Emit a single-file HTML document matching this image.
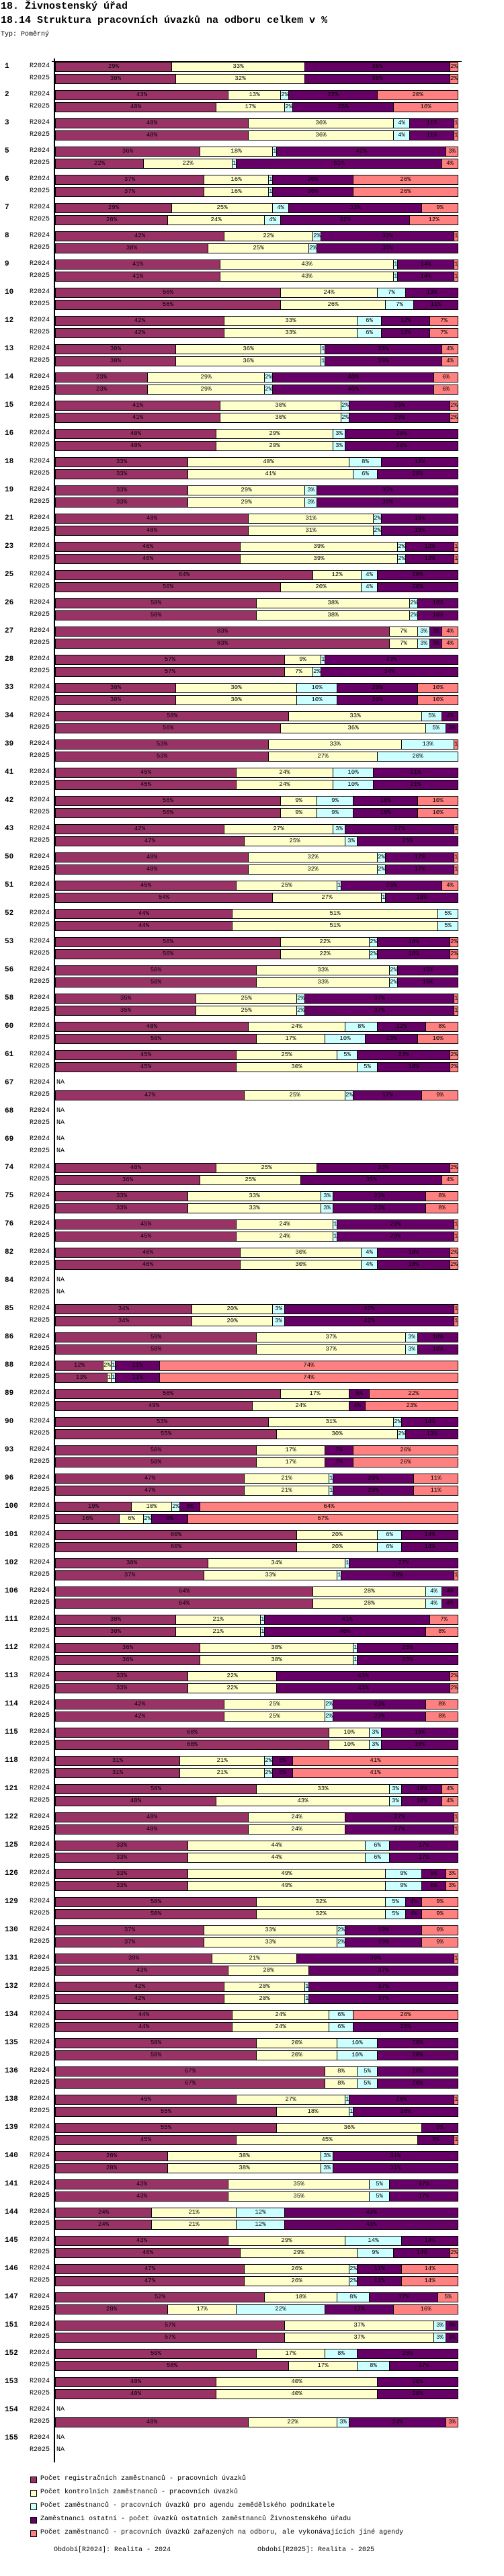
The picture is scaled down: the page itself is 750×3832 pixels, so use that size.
<!DOCTYPE html>
<html><head><meta charset="utf-8">
<style>
body{margin:0;background:#fff;width:750px;height:3832px;position:relative;overflow:hidden;font-family:"Liberation Mono","DejaVu Sans Mono",monospace;color:#000}
.t{position:absolute;white-space:nowrap;line-height:1}
.seg{position:absolute;height:15px;box-sizing:border-box;border:1px solid #000;border-left:none;overflow:hidden;white-space:nowrap;text-align:center;font-size:9px;line-height:13px}
.seg.first{border-left:1px solid #000}
.sq{position:absolute;width:8px;height:8px;border:1px solid #000}
</style></head>
<body>
<div class="t" style="left:1px;top:2px;font-size:15px;font-weight:bold">18. Živnostenský úřad</div>
<div class="t" style="left:1px;top:23px;font-size:15px;font-weight:bold">18.14 Struktura pracovních úvazků na odboru celkem v %</div>
<div class="t" style="left:1px;top:47px;font-size:10px">Typ: Poměrný</div>
<div id="chart"></div>
<div id="legend"></div>
<div class="t" style="left:80px;top:3789px;font-size:10px">Období[R2024]: Realita - 2024</div>
<div class="t" style="left:383px;top:3789px;font-size:10px">Období[R2025]: Realita - 2025</div>
<script>
const groups=["1","2","3","5","6","7","8","9","10","12","13","14","15","16","18","19","21","23","25","26","27","28","33","34","39","41","42","43","50","51","52","53","56","58","60","61","67","68","69","74","75","76","82","84","85","86","88","89","90","93","96","100","101","102","106","111","112","113","114","115","118","121","122","125","126","129","130","131","132","134","135","136","138","139","140","141","144","145","146","147","151","152","153","154","155"];
const periods=["R2024","R2025"];
const seriesNames=["Počet registračních zaměstnanců - pracovních úvazků","Počet kontrolních zaměstnanců - pracovních úvazků","Počet zaměstnanců - pracovních úvazků pro agendu zemědělského podnikatele","Zaměstnanci ostatní - počet úvazků ostatních zaměstnanců Živnostenského úřadu","Počet zaměstnanců - pracovních úvazků zařazených na odboru, ale vykonávajících jiné agendy"];
const seriesColors=["#993366","#FFFFCC","#CCFFFF","#660066","#FF8080"];
const values2024=[
[29,33,0,36,2],[43,13,2,22,20],[48,36,4,11,1],[36,18,1,42,3],[37,16,1,20,26],[29,25,4,33,9],[42,22,2,33,1],[41,43,1,14,1],[56,24,7,13,0],
[42,33,6,12,7],[30,36,1,29,4],[23,29,2,40,6],[41,30,2,25,2],[40,29,3,28,0],[33,40,8,19,0],[33,29,3,35,0],[48,31,2,19,0],[46,39,2,12,1],[64,12,4,20,0],
[50,38,2,10,0],[83,7,3,3,4],[57,9,1,33,0],[30,30,10,20,10],[58,33,5,4,0],[53,33,13,0,1],[45,24,10,21,0],[56,9,9,16,10],[42,27,3,27,1],[48,32,2,17,1],
[45,25,1,25,4],[44,51,5,0,0],[56,22,2,18,2],[50,33,2,15,0],[35,25,2,37,1],[48,24,8,12,8],[45,25,5,23,2],null,null,null,
[40,25,0,33,2],[33,33,3,23,8],[45,24,1,29,1],[46,30,4,18,2],null,[34,20,3,42,1],[50,37,3,10,0],[12,2,1,11,74],[56,17,0,5,22],[53,31,2,14,0],
[50,17,0,7,26],[47,21,1,20,11],[19,10,2,5,64],[60,20,6,14,0],[38,34,1,27,0],[64,28,4,4,0],[30,21,1,41,7],[36,38,1,25,0],[33,22,0,43,2],[42,25,2,23,8],
[68,10,3,19,0],[31,21,2,5,41],[50,33,3,10,4],[48,24,0,27,1],[33,44,6,17,0],[33,49,9,6,3],[50,32,5,4,9],[37,33,2,19,9],[39,21,0,39,1],[42,20,1,37,0],
[44,24,6,0,26],[50,20,10,20,0],[67,8,5,20,0],[45,27,1,26,1],[55,36,0,9,0],[28,38,3,31,0],[43,35,5,17,0],[24,21,12,43,0],[43,29,14,14,0],[47,26,2,11,14],
[52,18,8,17,5],[57,37,3,3,0],[50,17,8,25,0],[40,40,0,20,0],null,null];
const values2025=[
[30,32,0,36,2],[40,17,2,25,16],[48,36,4,11,1],[22,22,1,51,4],[37,16,1,20,26],[28,24,4,32,12],[38,25,2,35,0],[41,43,1,14,1],[56,26,7,11,0],
[42,33,6,12,7],[30,36,1,29,4],[23,29,2,40,6],[41,30,2,25,2],[40,29,3,28,0],[33,41,6,20,0],[33,29,3,35,0],[48,31,2,19,0],[46,39,2,12,1],[56,20,4,20,0],
[50,38,2,10,0],[83,7,3,3,4],[57,7,2,34,0],[30,30,10,20,10],[56,36,5,3,0],[53,27,20,0,0],[45,24,10,21,0],[56,9,9,16,10],[47,25,3,25,0],[48,32,2,17,1],
[54,27,1,18,0],[44,51,5,0,0],[56,22,2,18,2],[50,33,2,15,0],[35,25,2,37,1],[50,17,10,13,10],[45,30,5,18,2],[47,25,2,17,9],null,null,
[36,25,0,35,4],[33,33,3,23,8],[45,24,1,29,1],[46,30,4,18,2],null,[34,20,3,42,1],[50,37,3,10,0],[13,1,1,11,74],[49,24,0,4,23],[55,30,2,13,0],
[50,17,0,7,26],[47,21,1,20,11],[16,6,2,9,67],[60,20,6,14,0],[37,33,1,28,1],[64,28,4,4,0],[30,21,1,40,8],[36,38,1,25,0],[33,22,0,43,2],[42,25,2,23,8],
[68,10,3,19,0],[31,21,2,5,41],[40,43,3,10,4],[48,24,0,27,1],[33,44,6,17,0],[33,49,9,6,3],[50,32,5,4,9],[37,33,2,19,9],[43,20,0,37,0],[42,20,1,37,0],
[44,24,6,26,0],[50,20,10,20,0],[67,8,5,20,0],[55,18,1,26,0],[45,45,0,9,1],[28,38,3,31,0],[43,35,5,17,0],[24,21,12,43,0],[46,29,9,14,2],[47,26,2,11,14],
[28,17,22,17,16],[57,37,3,3,0],[58,17,8,17,0],[40,40,0,20,0],[48,22,3,24,3],null];

const X0=82, W=600, Y0=92, GP=42, RP=18;
function xScale(frac){return X0+Math.round(frac*W);}
function yRow(g,r){return Y0+g*GP+r*RP;}
const chart=document.getElementById('chart');
function mk(cls,style,txt){const d=document.createElement('div');d.className=cls;d.style.cssText=style;if(txt!=null)d.textContent=txt;chart.appendChild(d);return d;}

// axis
let ax=mk('t','left:80px;top:87px;width:2px;height:3576px;background:#000');


let tk=mk('t','left:77px;top:91px;width:610px;height:1px;background:#000');



groups.forEach((g,gi)=>{
  const gl=mk('t','left:7px;top:'+(yRow(gi,0)+2)+'px;font-size:11px;font-weight:bold',g);
  
  
  [values2024,values2025].forEach((vals,ri)=>{
    const y=yRow(gi,ri);
    const pl=mk('t','left:44px;top:'+(y+2)+'px;font-size:10px',periods[ri]);
    
    
    const row=vals[gi];
    if(!row){
      const na=mk('t','left:84px;top:'+(y+2)+'px;font-size:10px','NA');
      
      
      return;
    }
    const sum=row.reduce((a,b)=>a+b,0);
    let cum=0;
    row.forEach((v,si)=>{
      if(v<=0)return;
      const xa=xScale(cum/sum); cum+=v; const xb=xScale(cum/sum);
      const s=mk('seg'+(xa===X0?' first':''),'left:'+xa+'px;top:'+y+'px;width:'+Math.max(2,xb-xa)+'px;background:'+seriesColors[si]+';',v+'%');
      
      
    });
  });
});

const lg=document.getElementById('legend');
seriesNames.forEach((n,i)=>{
  const y=3684+i*20;
  const sq=document.createElement('div');sq.className='sq';sq.style.cssText='left:45px;top:'+y+'px;background:'+seriesColors[i];
  
  
  lg.appendChild(sq);
  const t=document.createElement('div');t.className='t';t.style.cssText='left:60px;top:'+(y-1)+'px;font-size:10px';t.textContent=n;
  
  
  lg.appendChild(t);
});
</script>
</body></html>
